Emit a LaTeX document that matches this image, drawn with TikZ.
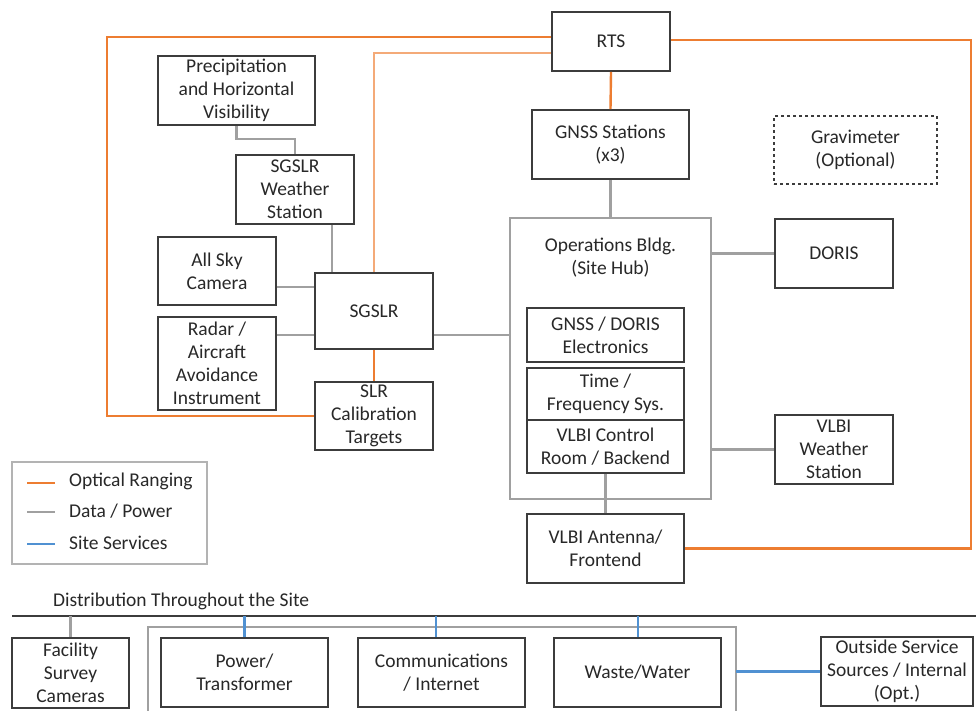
\documentclass[tikz,border=0pt]{standalone}
\usepackage{fontspec}
\setmainfont{Carlito}
\definecolor{orng}{RGB}{237,125,49}
\definecolor{lorng}{RGB}{244,170,120}
\definecolor{gry}{RGB}{160,160,160}
\definecolor{blu}{RGB}{80,145,210}
\definecolor{bord}{RGB}{60,60,60}
\definecolor{txt}{RGB}{40,40,40}
\begin{document}
\begin{tikzpicture}[x=1pt,y=-1pt,
  box/.style={draw=bord,line width=1.6pt,rectangle,align=center,inner sep=0pt,font=\fontsize{19.5}{23}\selectfont,text=txt},
  optline/.style={draw=orng,line width=2.4pt},
  loptline/.style={draw=lorng,line width=2pt},
  dataline/.style={draw=gry,line width=2.2pt},
  svcline/.style={draw=blu,line width=2.2pt},
  lbl/.style={font=\fontsize{19.5}{23}\selectfont,text=txt,inner sep=0pt}]
\useasboundingbox (0,0) rectangle (976,710);
\fill[white] (0,0) rectangle (976,710);

% nodes
\node[box,minimum width=157,minimum height=69] (prec) at (236.5,90.5) {Precipitation\\and Horizontal\\Visibility};
\node[box,minimum width=118,minimum height=69] (wx) at (295,189.5) {SGSLR\\Weather\\Station};
\node[box,minimum width=118,minimum height=68] (sky) at (217,271) {All Sky\\Camera};
\node[box,minimum width=118,minimum height=76] (sgslr) at (374,311) {SGSLR};
\node[box,minimum width=118,minimum height=93] (radar) at (217,363.5) {Radar /\\Aircraft\\Avoidance\\Instrument};
\node[box,minimum width=118,minimum height=68] (slr) at (374,416) {SLR\\Calibration\\Targets};
\node[box,minimum width=118,minimum height=59] (rts) at (611,41.5) {RTS};
\node[box,minimum width=157,minimum height=69] (gnss) at (610.5,144.5) {GNSS Stations\\(x3)};
\node[box,dashed,line width=1.2pt,minimum width=163,minimum height=68] (grav) at (855.5,150) {Gravimeter\\(Optional)};
\node[draw=gry,line width=1.8pt,rectangle,minimum width=201,minimum height=281,inner sep=0pt] (ops) at (610.5,358.5) {};
\node[lbl,align=center] (opslbl) at (610.5,258) {Operations Bldg.\\(Site Hub)};
\node[box,minimum width=118,minimum height=69] (doris) at (834,253.5) {DORIS};
\node[box,minimum width=157,minimum height=54] (gde) at (605.5,335) {GNSS / DORIS\\Electronics};
\node[box,minimum width=157,minimum height=52] (tf) at (605.5,394) {Time /\\Frequency Sys.};
\node[box,minimum width=157,minimum height=53] (vcr) at (605.5,446.5) {VLBI Control\\Room / Backend};
\node[box,minimum width=118,minimum height=69] (vwx) at (834,449.5) {VLBI\\Weather\\Station};
\node[box,minimum width=157,minimum height=69] (vant) at (605.5,548.5) {VLBI Antenna/\\Frontend};

% coordinates for connectors
\coordinate (c1) at (107,37);
\coordinate (c2) at (374,53);
\coordinate (c3) at (971,40);
\coordinate (c4) at (295,139);
\coordinate (c5) at (332,0);
\coordinate (c6) at (0,287);
\coordinate (c7) at (0,335);

% optical ranging
\draw[optline] (rts.west |- c1) -- (c1) -- (c1 |- slr.west) -- (slr.west);
\draw[loptline] (rts.west |- c2) -- (c2) -- (sgslr.north);
\draw[optline] (rts.east |- c3) -- (c3) -- (c3 |- vant.east) -- (vant.east);
\draw[optline] (rts.south) -- (gnss.north);
\draw[optline] (sgslr.south) -- (slr.north);

% data / power
\draw[dataline] (prec.south) -- (prec.south |- c4) -- (c4) -- (wx.north);
\draw[dataline] (wx.south -| c5) -- (sgslr.north -| c5);
\draw[dataline] (sky.east |- c6) -- (sgslr.west |- c6);
\draw[dataline] (radar.east |- c7) -- (sgslr.west |- c7);
\draw[dataline] (sgslr.east |- c7) -- (ops.west |- c7);
\draw[dataline] (gnss.south) -- (ops.north);
\draw[dataline] (doris.west -| ops.east) -- (doris.west);
\draw[dataline] (vwx.west -| ops.east) -- (vwx.west);
\draw[dataline] (vcr.south) -- (vant.north);

% legend
\node[draw=gry!80,line width=1.4pt,rectangle,minimum width=195,minimum height=102,inner sep=0pt] (legend) at (109.5,513) {};
\coordinate (l1) at (27,483);
\coordinate (l2) at (27,512);
\coordinate (l3) at (27,544);
\draw[optline] (l1) -- ++(28,0);
\draw[dataline] (l2) -- ++(28,0);
\draw[svcline] (l3) -- ++(28,0);
\node[lbl,anchor=west] (t1) at (69,481) {Optical Ranging};
\node[lbl,anchor=west] (t2) at (69,511) {Data / Power};
\node[lbl,anchor=west] (t3) at (69,543) {Site Services};

% distribution
\node[lbl,anchor=west] (dist) at (53,601) {Distribution Throughout the Site};
\coordinate (dl) at (12,616);
\coordinate (dr) at (976,616);
\draw[draw=bord,line width=1.5pt] (dl) -- (dr);
\coordinate (g1) at (148,712);
\coordinate (g2) at (148,627);
\coordinate (g3) at (736,627);
\coordinate (g4) at (736,712);
\draw[draw=gry,line width=1.5pt] (g1) -- (g2) -- (g3) -- (g4);

\node[box,minimum width=117,minimum height=70] (fac) at (70.5,673) {Facility\\Survey\\Cameras};
\node[box,minimum width=167,minimum height=69] (pow) at (244.5,672.5) {Power/\\Transformer};
\node[box,minimum width=167,minimum height=69] (comm) at (441.5,672.5) {Communications\\/ Internet};
\node[box,minimum width=167,minimum height=69] (waste) at (637.5,672.5) {Waste/Water};
\node[box,minimum width=152,minimum height=69] (outs) at (897,671.5) {Outside Service\\Sources / Internal\\(Opt.)};

\coordinate (b2) at (436,0);
\coordinate (b3) at (638,0);
\draw[dataline] (fac.north) -- (fac.north |- dl);
\draw[svcline] (pow.north) -- (pow.north |- dl);
\draw[svcline] (comm.north -| b2) -- (dl -| b2);
\draw[svcline] (waste.north -| b3) -- (dl -| b3);
\draw[svcline] (outs.west -| g3) -- (outs.west);
\end{tikzpicture}
\end{document}
